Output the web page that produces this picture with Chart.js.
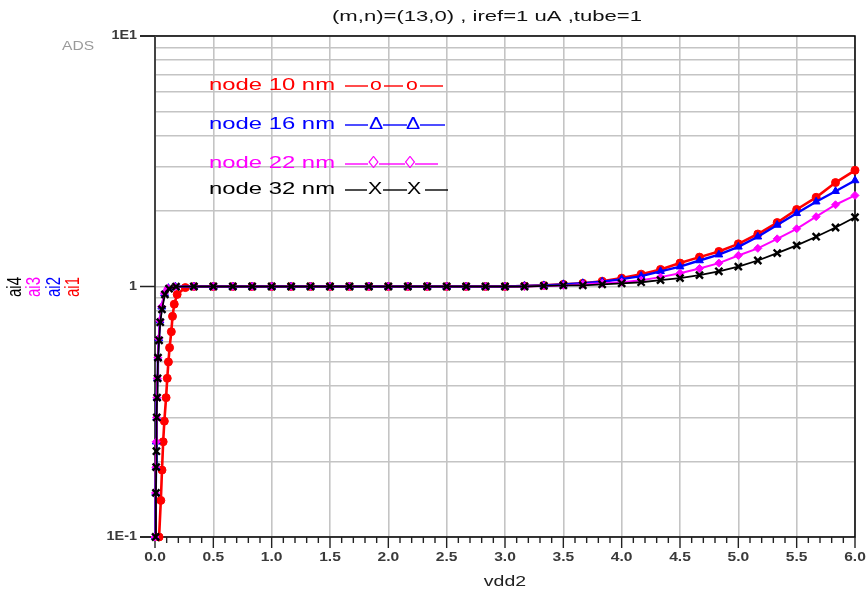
<!DOCTYPE html>
<html>
<head>
<meta charset="utf-8">
<script src="https://cdn.jsdelivr.net/npm/chart.js@4"></script>
<style>
  html, body { margin: 0; padding: 0; background: #fff; }
</style>
</head>
<body>
<canvas id="chart" width="868" height="594"></canvas>
<script>
// x sweep shared by all curves once they have reached the plateau
const vddTail = [0.333, 0.5, 0.667, 0.833, 1.0, 1.167, 1.333, 1.5, 1.667, 1.833,
  2.0, 2.167, 2.333, 2.5, 2.667, 2.833, 3.0, 3.167, 3.333,
  3.5, 3.667, 3.833, 4.0, 4.167, 4.333, 4.5, 4.667, 4.833, 5.0, 5.167, 5.333, 5.5, 5.667, 5.833, 6.0];

// node 10 nm (ai1, red)
const ai1RiseX = [0.035, 0.05, 0.06, 0.07, 0.08, 0.095, 0.105, 0.115, 0.125, 0.14, 0.15, 0.165, 0.19, 0.26];
const ai1RiseY = [0.1, 0.14, 0.185, 0.24, 0.29, 0.36, 0.43, 0.5, 0.57, 0.66, 0.76, 0.85, 0.93, 0.99];
const ai1Tail = [1, 1, 1, 1, 1, 1, 1, 1, 1, 1, 1, 1, 1, 1, 1, 1, 1.0, 1.005, 1.01,
  1.02, 1.03, 1.05, 1.08, 1.12, 1.17, 1.24, 1.31, 1.38, 1.48, 1.62, 1.80, 2.03, 2.27, 2.60, 2.91];

// node 16 nm (ai2, blue)
const ai2RiseX = [0.002, 0.006, 0.009, 0.011, 0.014, 0.017, 0.021, 0.025, 0.033, 0.043, 0.058, 0.082, 0.115, 0.175];
const ai2RiseY = [0.1, 0.15, 0.19, 0.24, 0.30, 0.36, 0.43, 0.52, 0.62, 0.73, 0.83, 0.94, 0.985, 0.998];
const ai2Tail = [1, 1, 1, 1, 1, 1, 1, 1, 1, 1, 1, 1, 1, 1, 1, 1, 1.0, 1.005, 1.01,
  1.02, 1.03, 1.045, 1.07, 1.10, 1.15, 1.20, 1.27, 1.34, 1.44, 1.58, 1.76, 1.96, 2.18, 2.40, 2.65];

// node 22 nm (ai3, magenta)
const ai3RiseX = [0.0, 0.004, 0.007, 0.01, 0.013, 0.016, 0.02, 0.024, 0.032, 0.042, 0.056, 0.08, 0.11, 0.17];
const ai3RiseY = [0.1, 0.15, 0.19, 0.24, 0.30, 0.36, 0.43, 0.52, 0.62, 0.73, 0.83, 0.94, 0.985, 0.998];
const ai3Tail = [1, 1, 1, 1, 1, 1, 1, 1, 1, 1, 1, 1, 1, 1, 1, 1, 1.0, 1.0, 1.005,
  1.01, 1.02, 1.03, 1.04, 1.06, 1.09, 1.13, 1.18, 1.24, 1.33, 1.42, 1.55, 1.70, 1.90, 2.12, 2.31];

// node 32 nm (ai4, black)
const ai4RiseX = [0.005, 0.008, 0.01, 0.012, 0.015, 0.018, 0.022, 0.026, 0.035, 0.045, 0.06, 0.085, 0.12, 0.18];
const ai4RiseY = [0.1, 0.15, 0.19, 0.22, 0.30, 0.36, 0.43, 0.52, 0.61, 0.72, 0.81, 0.93, 0.98, 0.998];
const ai4Tail = [1, 1, 1, 1, 1, 1, 1, 1, 1, 1, 1, 1, 1, 1, 1, 1, 1.0, 1.0, 1.005,
  1.01, 1.01, 1.02, 1.03, 1.04, 1.06, 1.08, 1.11, 1.15, 1.20, 1.27, 1.36, 1.46, 1.58, 1.72, 1.89];

// axes
const xTickValues = [0, 0.5, 1, 1.5, 2, 2.5, 3, 3.5, 4, 4.5, 5, 5.5, 6];
const xTickLabels = ['0.0', '0.5', '1.0', '1.5', '2.0', '2.5', '3.0', '3.5', '4.0', '4.5', '5.0', '5.5', '6.0'];
const yTickValues = [0.1, 1, 10];
const yTickLabels = ['1E-1', '1', '1E1'];
const yGridValues = [0.1, 0.2, 0.3, 0.4, 0.5, 0.6, 0.7, 0.8, 0.9, 1, 2, 3, 4, 5, 6, 7, 8, 9, 10];
const xMinorTicks = [];
for (let i = 0; i <= 60; i++) xMinorTicks.push(i / 10);

const seriesNames = ['node 10 nm', 'node 16 nm', 'node 22 nm', 'node 32 nm'];
const axisNames = ['ai4', 'ai3', 'ai2', 'ai1'];

const RED = '#ff0000', BLUE = '#0000ff', MAG = '#ff00ff', BLK = '#000000';
const FONT = '"Liberation Sans", Arial, sans-serif';
const SX = 1.35; // the ADS text is drawn wide

function toPoints(xs, ys) {
  return xs.map((x, i) => ({ x: x, y: ys[i] }));
}

function sText(ctx, str, x, y, font, color, align, sx) {
  ctx.save();
  ctx.font = font + ' ' + FONT;
  ctx.fillStyle = color;
  ctx.textBaseline = 'middle';
  ctx.textAlign = align || 'left';
  ctx.translate(x, y);
  ctx.scale(sx || SX, 1);
  ctx.fillText(str, 0, 0);
  ctx.restore();
}

function fitText(ctx, str, x, y, font, color, width) {
  ctx.save();
  ctx.font = font + ' ' + FONT;
  const w = ctx.measureText(str).width;
  ctx.restore();
  sText(ctx, str, x, y, font, color, 'left', width / w);
}

function hline(ctx, x1, x2, y, color) {
  ctx.save();
  ctx.strokeStyle = color;
  ctx.lineWidth = 1.4;
  ctx.beginPath();
  ctx.moveTo(x1, y);
  ctx.lineTo(x2, y);
  ctx.stroke();
  ctx.restore();
}

const adsDecor = {
  id: 'adsDecor',
  beforeDatasetsDraw(chart) {
    const { ctx, chartArea: { left, right, top, bottom }, scales: { x, y } } = chart;
    ctx.save();
    // frame
    ctx.strokeStyle = '#000';
    ctx.lineWidth = 1.5;
    ctx.beginPath();
    ctx.moveTo(left - 15, top); ctx.lineTo(right, top); ctx.lineTo(right, bottom); ctx.lineTo(left - 15, bottom);
    ctx.stroke();
    ctx.strokeStyle = '#444';
    ctx.lineWidth = 2;
    ctx.beginPath();
    ctx.moveTo(left, top); ctx.lineTo(left, bottom);
    ctx.stroke();
    // y decade ticks
    ctx.strokeStyle = '#222';
    ctx.lineWidth = 1.5;
    yTickValues.forEach(v => {
      const py = y.getPixelForValue(v);
      ctx.beginPath(); ctx.moveTo(left - 15, py); ctx.lineTo(left, py); ctx.stroke();
    });
    // x ticks
    ctx.lineWidth = 1.4;
    xMinorTicks.forEach(v => {
      const px = x.getPixelForValue(v);
      const major = Math.abs(v * 2 - Math.round(v * 2)) < 1e-6;
      ctx.beginPath(); ctx.moveTo(px, bottom); ctx.lineTo(px, bottom + (major ? 11 : 6)); ctx.stroke();
    });
    ctx.restore();
  },
  afterDraw(chart) {
    const { ctx, chartArea: { left, right, top, bottom }, scales: { x, y } } = chart;
    // tick labels
    xTickValues.forEach((v, i) => {
      sText(ctx, xTickLabels[i], x.getPixelForValue(v), bottom + 21, 'bold 12px', '#3a3a3a', 'center', 1.3);
    });
    yTickValues.forEach((v, i) => {
      sText(ctx, yTickLabels[i], left - 18, y.getPixelForValue(v), 'bold 12px', '#3a3a3a', 'right', 1.2);
    });
    // titles
    fitText(ctx, '(m,n)=(13,0) , iref=1 uA ,tube=1', 332, 17, '15px', '#111', 310);
    sText(ctx, 'vdd2', (left + right) / 2, bottom + 45, '15px', '#222', 'center', 1.3);
    sText(ctx, 'ADS', 62, 47, '12px', '#9a9a9a', 'left', 1.3);
    // rotated y titles
    const yColors = [BLK, MAG, BLUE, RED];
    const yPos = [15, 34, 54, 73];
    axisNames.forEach((name, i) => {
      ctx.save();
      ctx.font = '15px ' + FONT;
      ctx.fillStyle = yColors[i];
      ctx.textAlign = 'center';
      ctx.textBaseline = 'middle';
      ctx.translate(yPos[i], 287);
      ctx.scale(SX, 1);
      ctx.rotate(-Math.PI / 2);
      ctx.fillText(name, 0, 0);
      ctx.restore();
    });
    // legend block inside the plot
    const rows = [
      { c: RED, y: 85, sym: 'o', segs: [[345, 368], [384, 403], [420, 443]], at: [376, 412] },
      { c: BLUE, y: 124, sym: '\u0394', segs: [[345, 368], [383, 407], [420, 445]], at: [376, 413] },
      { c: MAG, y: 163, sym: '\u25CA', segs: [[345, 368], [379, 405], [415, 438]], at: [373.5, 410] },
      { c: BLK, y: 189, sym: 'X', segs: [[345, 367], [383, 407], [425, 448]], at: [375, 414] }
    ];
    rows.forEach((r, i) => {
      fitText(ctx, seriesNames[i], 209, r.y, '17px', r.c, 126);
      r.segs.forEach(s => hline(ctx, s[0], s[1], r.y + 1, r.c));
      r.at.forEach(px => sText(ctx, r.sym, px, r.y, '17px', r.c, 'center', 1.25));
    });
  }
};

new Chart(document.getElementById('chart'), {
  type: 'line',
  data: {
    datasets: [
      { label: 'ai4', data: toPoints(ai4RiseX.concat(vddTail), ai4RiseY.concat(ai4Tail)),
        borderColor: BLK, backgroundColor: BLK, borderWidth: 1.8,
        pointStyle: 'crossRot', pointRadius: 5, pointBorderWidth: 2.4, clip: 6 },
      { label: 'ai3', data: toPoints(ai3RiseX.concat(vddTail), ai3RiseY.concat(ai3Tail)),
        borderColor: MAG, backgroundColor: MAG, borderWidth: 2,
        pointStyle: 'rectRot', pointRadius: 4, pointBorderWidth: 1, clip: 6 },
      { label: 'ai2', data: toPoints(ai2RiseX.concat(vddTail), ai2RiseY.concat(ai2Tail)),
        borderColor: BLUE, backgroundColor: BLUE, borderWidth: 2.4,
        pointStyle: 'triangle', pointRadius: 4.5, pointBorderWidth: 1, clip: 6 },
      { label: 'ai1', data: toPoints(ai1RiseX.concat(vddTail), ai1RiseY.concat(ai1Tail)),
        borderColor: RED, backgroundColor: RED, borderWidth: 2.6,
        pointStyle: 'circle', pointRadius: 4, pointBorderWidth: 1, clip: 6 }
    ]
  },
  options: {
    responsive: false,
    animation: false,
    devicePixelRatio: 1,
    layout: { padding: { top: 36, right: 13, left: 0, bottom: 0 } },
    plugins: { legend: { display: false }, tooltip: { enabled: false }, title: { display: false } },
    elements: { line: { tension: 0 } },
    scales: {
      x: {
        type: 'linear', min: 0, max: 6,
        afterBuildTicks(s) { s.ticks = xMinorTicks.map(v => ({ value: v })); },
        afterFit(s) { s.height = 57; },
        ticks: { display: false },
        border: { display: false },
        grid: {
          drawTicks: false, lineWidth: 1.6,
          color(c) {
            const v = c.tick ? c.tick.value : 0;
            return Math.abs(v * 2 - Math.round(v * 2)) < 1e-6 ? '#c4c4c4' : 'rgba(0,0,0,0)';
          }
        }
      },
      y: {
        type: 'logarithmic', min: 0.1, max: 10,
        afterBuildTicks(s) { s.ticks = yGridValues.map(v => ({ value: v })); },
        afterFit(s) { s.width = 155; },
        ticks: { display: false },
        border: { display: false },
        grid: { drawTicks: false, lineWidth: 1.6, color: '#c4c4c4' }
      }
    }
  },
  plugins: [adsDecor]
});
</script>
</body>
</html>
